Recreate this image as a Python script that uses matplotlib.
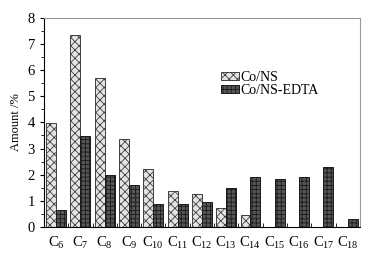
import numpy as np
import matplotlib.pyplot as plt

plt.rcParams['font.family'] = 'Liberation Serif'
plt.rcParams['mathtext.fontset'] = 'custom'
plt.rcParams['mathtext.rm'] = 'Liberation Serif'
plt.rcParams['mathtext.it'] = 'Liberation Serif'
plt.rcParams['hatch.linewidth'] = 0.6

carbons = [6, 7, 8, 9, 10, 11, 12, 13, 14, 15, 16, 17, 18]
co_ns = [3.96, 7.36, 5.69, 3.35, 2.23, 1.36, 1.27, 0.73, 0.44, 0, 0, 0, 0]
co_ns_edta = [0.63, 3.47, 2.0, 1.6, 0.89, 0.89, 0.96, 1.47, 1.92, 1.82, 1.92, 2.31, 0.28]
labels = ['C$_{%d}$' % c for c in carbons]

fig = plt.figure(figsize=(3.82, 2.58), dpi=100)
ax = fig.add_axes([0.115, 0.121, 0.827, 0.809])

x = np.arange(len(carbons))
w = 0.41
ax.bar(x - w/2, co_ns, w, color='#e4e4e4', edgecolor='#404040', hatch='xxxx',
       linewidth=0.7, label='Co/NS')
ax.bar(x + w/2, co_ns_edta, w, color='#555555', edgecolor='#1a1a1a', hatch='++++',
       linewidth=0.7, label='Co/NS-EDTA')

ax.set_xlim(-0.5, len(carbons) - 0.5)
ax.set_ylim(0, 8)
ax.set_xticks(x)
ax.set_xticklabels(labels, fontsize=10.5)
ax.set_xticks(x[:-1] + 0.5, minor=True)
ax.tick_params(axis='x', which='major', length=0, pad=6)
ax.tick_params(axis='x', which='minor', direction='in', length=3)
ax.set_yticks(range(0, 9))
ax.set_yticks(np.arange(0.5, 8, 1), minor=True)
ax.tick_params(axis='y', which='major', direction='out', length=3, labelsize=10.5)
ax.tick_params(axis='y', which='minor', direction='out', length=2)
ax.set_ylabel('Amount /%', fontsize=9)

ax.spines['top'].set_color('#999999')
ax.spines['right'].set_color('#999999')

ax.legend(loc='upper left', bbox_to_anchor=(0.54, 0.78), frameon=False, fontsize=10,
          handlelength=1.25, handleheight=0.6, handletextpad=0.1, labelspacing=0.0,
          borderpad=0)

fig.savefig('out.png', dpi=100)
